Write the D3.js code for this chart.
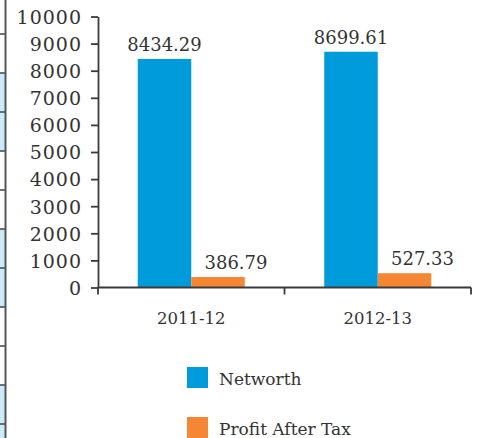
<!DOCTYPE html>
<html>
<head>
<meta charset="utf-8">
<script src="https://cdn.jsdelivr.net/npm/d3@7"></script>
<style>
  body { margin: 0; background: #fff; }
  text { font-family: "DejaVu Serif", serif; fill: #333; }
</style>
</head>
<body>
<script>
// data
var years = ["2011-12", "2012-13"];
var series = ["Networth", "Profit After Tax"];
var networth = [8434.29, 8699.61];
var profit = [386.79, 527.33];
var yTicks = [0, 1000, 2000, 3000, 4000, 5000, 6000, 7000, 8000, 9000, 10000];
var colors = ["#009bdb", "#f58634"];

var margin = { top: 16.5, right: 9, bottom: 150.5, left: 98 },
   width = 480 - margin.left - margin.right,
   height = 438 - margin.top - margin.bottom;

var svg = d3
   .select("body")
   .append("svg")
   .attr("width", 480)
   .attr("height", 438);

// strip of a neighbouring table on the left edge
var strip = svg.append("g");
for (var i = 0; i < 11; i++) {
   var y0 = 34 + i * 39;
   if (Math.floor((i + 1) / 2) % 2 == 1) {
      strip.append("rect").attr("x", 0).attr("y", y0).attr("width", 5).attr("height", 39).attr("fill", "#c9ebfa");
   }
   strip.append("line").attr("x1", 0).attr("x2", 5).attr("y1", y0).attr("y2", y0)
      .attr("stroke", "#444").attr("stroke-width", 1.5);
}
strip.append("line").attr("x1", 5.5).attr("x2", 5.5).attr("y1", 0).attr("y2", 438)
   .attr("stroke", "#555").attr("stroke-width", 2);

var g = svg.append("g")
   .attr("transform", "translate(" + margin.left + "," + margin.top + ")");

var x0 = d3.scaleBand().domain(years).range([0, width]).paddingInner(0.426).paddingOuter(0.213);
var x1 = d3.scaleBand().domain(series).range([0, x0.bandwidth()]);
var y = d3.scaleLinear().domain([0, 10000]).range([height, 0]);

var rows = years.map(function(yr, i) {
   return { year: yr, values: [networth[i], profit[i]] };
});

// bars
var groups = g.selectAll(".grp")
   .data(rows)
   .enter().append("g")
   .attr("transform", function(d) { return "translate(" + x0(d.year) + ",0)"; });

groups.selectAll("rect")
   .data(function(d) { return d.values.map(function(v, j) { return { s: series[j], v: v, j: j }; }); })
   .enter().append("rect")
   .attr("x", function(d) { return x1(d.s); })
   .attr("y", function(d) { return y(d.v); })
   .attr("width", x1.bandwidth())
   .attr("height", function(d) { return height - y(d.v); })
   .attr("fill", function(d) { return colors[d.j]; });

groups.selectAll(".val")
   .data(function(d) { return d.values.map(function(v, j) { return { s: series[j], v: v, j: j }; }); })
   .enter().append("text")
   .attr("class", "val")
   .attr("x", function(d) { return x1(d.s) + x1.bandwidth() / 2 + (d.j == 1 ? 18 : 0); })
   .attr("y", function(d) { return y(d.v) - 8; })
   .attr("text-anchor", "middle")
   .style("font-size", "18px")
   .text(function(d) { return d3.format(".2f")(d.v); });

// y axis
var yAxis = g.append("g")
   .call(d3.axisLeft(y).tickValues(yTicks).tickSize(7).tickPadding(9).tickSizeOuter(0).tickFormat(d3.format("d")));
yAxis.selectAll("text").style("font-size", "19px").style("letter-spacing", "1px").attr("dy", "0.36em");

// x axis: ticks at the group edges, labels under the groups
var edges = [0].concat(years.map(function(yr) { return x0(yr) + x0.bandwidth() + x0.step() * 0.213; }));
var xAxis = g.append("g").attr("transform", "translate(0," + height + ")");
xAxis.append("line").attr("x1", 0).attr("x2", width).attr("stroke", "#3a3a3a").attr("stroke-width", 1.8);
xAxis.selectAll(".edge")
   .data(edges)
   .enter().append("line")
   .attr("x1", function(d) { return d; })
   .attr("x2", function(d) { return d; })
   .attr("y1", 0).attr("y2", 7)
   .attr("stroke", "#3a3a3a").attr("stroke-width", 1.8);
xAxis.selectAll(".cat")
   .data(years)
   .enter().append("text")
   .attr("x", function(d) { return x0(d) + x0.bandwidth() / 2; })
   .attr("y", 36)
   .attr("text-anchor", "middle")
   .style("font-size", "16.5px")
   .text(function(d) { return d; });

g.selectAll(".domain, .tick line").attr("stroke", "#3a3a3a").attr("stroke-width", 1.8);

// legend
var legend = svg.selectAll(".legend")
   .data(series)
   .enter().append("g")
   .attr("transform", function(d, i) { return "translate(187," + (367 + i * 50) + ")"; });
legend.append("rect").attr("width", 21).attr("height", 21).attr("fill", function(d, i) { return colors[i]; });
legend.append("text").attr("x", 32).attr("y", 18).style("font-size", "17px").text(function(d) { return d; });
</script>
</body>
</html>
